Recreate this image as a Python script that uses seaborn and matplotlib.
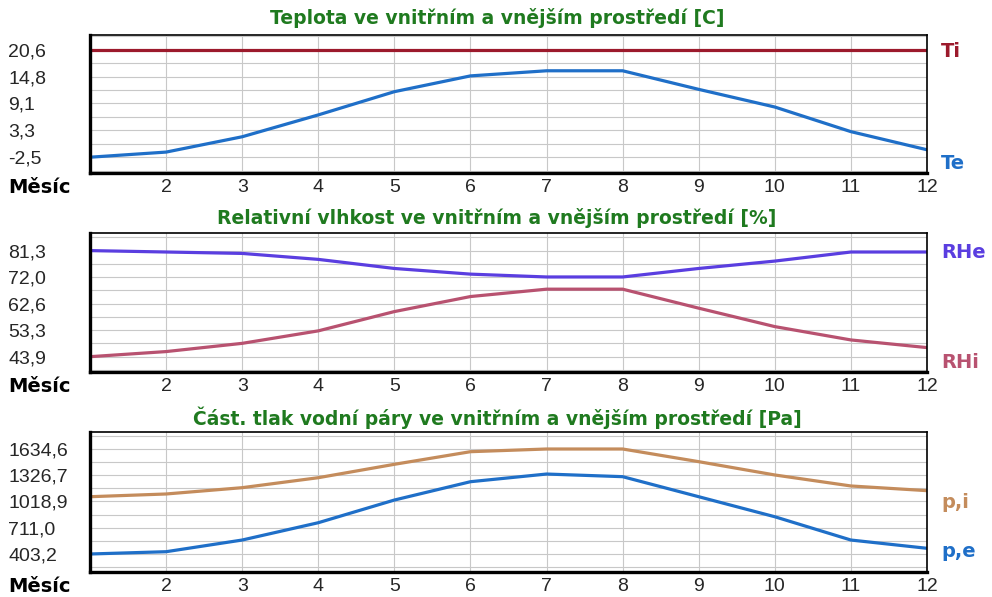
import numpy as np
import matplotlib
matplotlib.use("Agg")
import matplotlib.pyplot as plt
import seaborn as sns

# data
months = list(range(1, 13))
month_labels = ["2", "3", "4", "5", "6", "7", "8", "9", "10", "11", "12"]

ti = [20.6] * 12
te = [-2.5, -1.4, 1.9, 6.6, 11.6, 15.0, 16.1, 16.1, 12.1, 8.3, 3.0, -0.9]
t_ticks = [-2.5, 3.3, 9.1, 14.8, 20.6]
t_labels = ["-2,5", "3,3", "9,1", "14,8", "20,6"]

rhe = [81.3, 80.8, 80.3, 78.2, 75.0, 73.0, 72.0, 72.0, 75.0, 77.6, 80.8, 80.8]
rhi = [43.9, 45.7, 48.6, 53.0, 59.8, 65.1, 67.7, 67.7, 61.0, 54.5, 49.8, 47.1]
rh_ticks = [43.9, 53.3, 62.6, 72.0, 81.3]
rh_labels = ["43,9", "53,3", "62,6", "72,0", "81,3"]

p_i = [1075, 1107, 1181, 1298, 1455, 1603, 1634.6, 1634.6, 1486, 1330, 1201, 1146]
p_e = [403.2, 430, 567, 770, 1036, 1251, 1341, 1310, 1075, 840, 567, 470]
p_ticks = [403.2, 711.0, 1018.9, 1326.7, 1634.6]
p_labels = ["403,2", "711,0", "1018,9", "1326,7", "1634,6"]

titles = ["Teplota ve vnitřním a vnějším prostředí [C]",
          "Relativní vlhkost ve vnitřním a vnějším prostředí [%]",
          "Část. tlak vodní páry ve vnitřním a vnějším prostředí [Pa]"]

sns.set_style("white")
plt.rcParams['font.family'] = ['Liberation Sans', 'DejaVu Sans']
bold_font = ['DejaVu Sans']

fig = plt.figure(figsize=(9.92, 5.97), dpi=100)

W, H = 992, 597
boxes = [(35, 173, -5.9, 23.8), (233, 372, 38.5, 87.5), (432, 572, 192, 1834)]
title_y = [18, 218, 418]

panels = [
    [(ti, "#9c1a2c", "Ti", 0.877), (te, "#1f6fc8", "Te", 0.07)],
    [(rhe, "#5a3ee0", "RHe", 0.863), (rhi, "#b85270", "RHi", 0.07)],
    [(p_i, "#c48c5c", "p,i", 0.50), (p_e, "#1f6fc8", "p,e", 0.143)],
]
tick_sets = [(t_ticks, t_labels), (rh_ticks, rh_labels), (p_ticks, p_labels)]

for k in range(3):
    top, bot, ylo, yhi = boxes[k]
    ax = fig.add_axes([90 / W, 1 - bot / H, (927 - 90) / W, (bot - top) / H])

    for vals, col, name, ly in panels[k]:
        sns.lineplot(x=months, y=vals, ax=ax, color=col, linewidth=2.3)
        ax.text(1.017, ly, name, transform=ax.transAxes, color=col,
                fontsize=14, fontweight="bold", family=bold_font,
                ha="left", va="center")

    ticks, labels = tick_sets[k]
    half = (ticks[1] - ticks[0]) / 2
    minor = [t + half for t in ticks[:-1]] + [ticks[0] - half, ticks[-1] + half]

    ax.set_xlim(1, 12)
    ax.set_ylim(ylo, yhi)
    ax.set_xticks(months[1:])
    ax.set_xticklabels(month_labels, fontsize=14)
    ax.set_yticks(ticks)
    ax.set_yticklabels(labels, fontsize=14, ha="left")
    ax.set_yticks(minor, minor=True)
    ax.tick_params(axis="y", which="both", length=0, pad=59)
    ax.tick_params(axis="x", length=0, pad=4)
    ax.grid(True, which="both", axis="y", color="#c8c8c8", linewidth=0.8)
    ax.grid(True, which="major", axis="x", color="#c8c8c8", linewidth=0.8)
    ax.set_xlabel("")
    ax.set_ylabel("")

    for side in ["left", "bottom"]:
        ax.spines[side].set_linewidth(2.4)
        ax.spines[side].set_color("black")
    for side in ["top", "right"]:
        ax.spines[side].set_linewidth(1.2)
        ax.spines[side].set_color("black")

    fig.text(497 / W, 1 - title_y[k] / H, titles[k], color="#1f7a1f",
             fontsize=13.5, fontweight="bold", family=bold_font,
             ha="center", va="center")
    fig.text(8 / W, 1 - (bot + 14) / H, "Měsíc", color="black",
             fontsize=14, fontweight="bold", family=bold_font,
             ha="left", va="center")

fig.savefig("out.png", dpi=100)
